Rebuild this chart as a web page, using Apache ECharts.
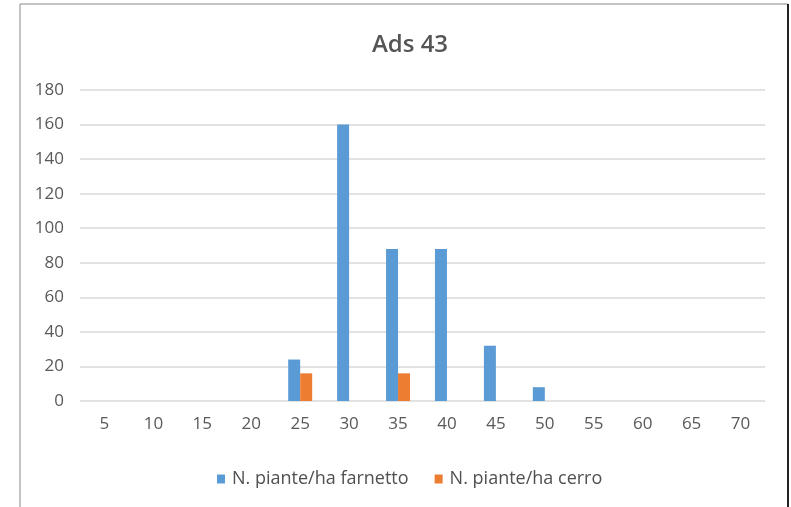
<!DOCTYPE html>
<html><head><meta charset="utf-8">
<script src="https://cdn.jsdelivr.net/npm/echarts@6/dist/echarts.min.js"></script>
<style>html,body{margin:0;padding:0;background:#fff}#c{width:791px;height:507px}</style>
</head><body><div id="c"></div>
<script>
const categories = ['5','10','15','20','25','30','35','40','45','50','55','60','65','70'];
const farnetto = [0,0,0,0,24,160,88,88,32,8,0,0,0,0];
const cerro = [0,0,0,0,16,0,16,0,0,0,0,0,0,0];
const yTicks = {min:0, max:180, interval:20};

const chart = echarts.init(document.getElementById('c'));
const font = "'Open Sans', 'Noto Sans', sans-serif";
chart.setOption({
  animation:false,
  backgroundColor:'#fff',
  title:{text:'Ads 43', left:405, top:28, textAlign:'center',
    textStyle:{fontFamily:font, fontSize:24, fontWeight:600, color:'#555555'}},
  grid:{left:80, right:26, top:90, bottom:106},
  legend:{top:465, left:212, itemWidth:8, itemHeight:9, itemGap:26, icon:'rect',
    textStyle:{fontFamily:font, fontSize:18, color:'#505050', padding:[0,0,0,2]}},
  xAxis:{type:'category', data:categories,
    axisLine:{show:false}, axisTick:{show:false},
    axisLabel:{fontFamily:font, fontSize:17, color:'#595959', margin:15}},
  yAxis:{type:'value', min:yTicks.min, max:yTicks.max, interval:yTicks.interval,
    axisLine:{show:false}, axisTick:{show:false},
    splitLine:{lineStyle:{color:'#d9d9d9', width:1.5}},
    axisLabel:{fontFamily:font, fontSize:17, color:'#595959', margin:16}},
  series:[
    {name:'N. piante/ha farnetto', type:'bar', data:farnetto, barWidth:12, barGap:'0%',
     itemStyle:{color:'#5b9bd5'}},
    {name:'N. piante/ha cerro', type:'bar', data:cerro, barWidth:12, barGap:'0%',
     itemStyle:{color:'#ed7d31'}}
  ],
  graphic:[
    {type:'line', shape:{x1:20,y1:4,x2:788,y2:4}, style:{stroke:'#b0b0b0', lineWidth:1.5}},
    {type:'line', shape:{x1:20,y1:4,x2:20,y2:507}, style:{stroke:'#b0b0b0', lineWidth:1.5}},
    {type:'line', shape:{x1:788,y1:4,x2:788,y2:507}, style:{stroke:'#222', lineWidth:2}}
  ]
});
</script></body></html>
